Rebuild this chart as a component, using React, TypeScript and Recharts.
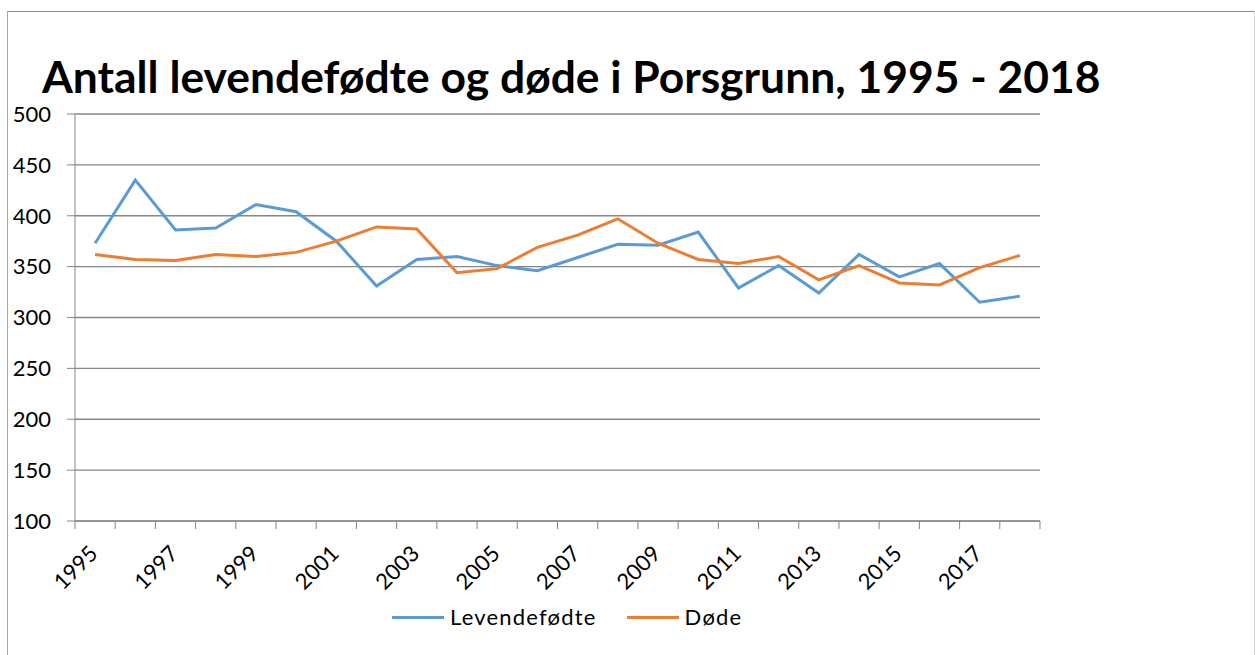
import React from "react";
import {
  LineChart,
  Line,
  XAxis,
  YAxis,
  CartesianGrid,
  Legend,
} from "recharts";

const years = [
  1995, 1996, 1997, 1998, 1999, 2000, 2001, 2002, 2003, 2004, 2005, 2006,
  2007, 2008, 2009, 2010, 2011, 2012, 2013, 2014, 2015, 2016, 2017, 2018,
];
const levendefodte = [
  373, 435, 386, 388, 411, 404, 375, 331, 357, 360, 351, 346,
  359, 372, 371, 384, 329, 351, 324, 362, 340, 353, 315, 321,
];
const dode = [
  362, 357, 356, 362, 360, 364, 375, 389, 387, 344, 348, 369,
  381, 397, 373, 357, 353, 360, 337, 351, 334, 332, 349, 361,
];
const yTicks = [100, 150, 200, 250, 300, 350, 400, 450, 500];
const labelYears = [1995, 1997, 1999, 2001, 2003, 2005, 2007, 2009, 2011, 2013, 2015, 2017];
const boundaryTicks = [...years.map((y) => y - 0.5), 2018.5];

const data = years.map((year, i) => ({
  year,
  Levendefødte: levendefodte[i],
  Døde: dode[i],
}));

const FONT = "Lato, 'Open Sans', sans-serif";

const YearTick = (props: any) => {
  const { x, y, payload } = props;
  const ax = x + 4;
  const ay = y + 18;
  return (
    <text
      x={ax}
      y={ay}
      transform={`rotate(-45, ${ax}, ${ay})`}
      textAnchor="end"
      fontSize={22}
      fill="#000"
      fontFamily={FONT}
    >
      {payload.value}
    </text>
  );
};

const NoTick = () => <g />;

const LegendContent = () => (
  <div
    style={{
      display: "flex",
      paddingLeft: 392,
      paddingTop: 4,
      fontFamily: FONT,
      fontSize: 22,
      letterSpacing: 1.2,
      lineHeight: "28px",
    }}
  >
    {[
      { name: "Levendefødte", color: "#5B9BD5" },
      { name: "Døde", color: "#ED7D31" },
    ].map((item) => (
      <div key={item.name} style={{ display: "flex", alignItems: "center", marginRight: 30 }}>
        <div style={{ width: 52, height: 3, background: item.color, marginRight: 6 }} />
        <span style={{ color: "#000" }}>{item.name}</span>
      </div>
    ))}
  </div>
);

export default function App() {
  return (
    <div style={{ position: "absolute", left: 0, top: 0, width: 1255, height: 655, background: "#fff", overflow: "hidden" }}>
      <div
        style={{
          position: "absolute",
          left: 7,
          top: 11,
          width: 1246,
          height: 700,
          borderTop: "1px solid #8c8c8c",
          borderLeft: "1px solid #a6a6a6",
          borderRight: "1px solid #d9d9d9",
        }}
      />
      <div
        style={{
          position: "absolute",
          left: 42,
          top: 46,
          whiteSpace: "nowrap",
          fontFamily: FONT,
          fontWeight: 700,
          fontSize: 44.4,
          lineHeight: "60px",
          color: "#000",
        }}
      >
        Antall levendefødte og døde i Porsgrunn, 1995 - 2018
      </div>
      <div style={{ position: "absolute", left: 0, top: 0 }}>
        <LineChart
          width={1255}
          height={655}
          data={data}
          margin={{ top: 114, right: 215, bottom: 22, left: 0 }}
        >
          <CartesianGrid vertical={false} stroke="#868686" strokeWidth={1.3} />
          <XAxis
            dataKey="year"
            type="number"
            domain={[1994.5, 2018.5]}
            ticks={boundaryTicks}
            tick={<NoTick />}
            tickSize={8}
            height={8}
            stroke="#868686"
            interval={0}
          />
          <XAxis
            xAxisId="labels"
            dataKey="year"
            type="number"
            domain={[1994.5, 2018.5]}
            ticks={labelYears}
            tick={<YearTick />}
            axisLine={false}
            tickLine={false}
            height={70}
            interval={0}
          />
          <YAxis
            domain={[100, 500]}
            ticks={yTicks}
            width={75}
            tickSize={8}
            tickMargin={16}
            stroke="#868686"
            tick={{ fill: "#000", fontSize: 22, fontFamily: FONT }}
            interval={0}
          />
          <Legend verticalAlign="bottom" height={34} content={<LegendContent />} />
          <Line
            dataKey="Levendefødte"
            stroke="#5B9BD5"
            strokeWidth={3}
            dot={false}
            isAnimationActive={false}
          />
          <Line
            dataKey="Døde"
            stroke="#ED7D31"
            strokeWidth={3}
            dot={false}
            isAnimationActive={false}
          />
        </LineChart>
      </div>
    </div>
  );
}
